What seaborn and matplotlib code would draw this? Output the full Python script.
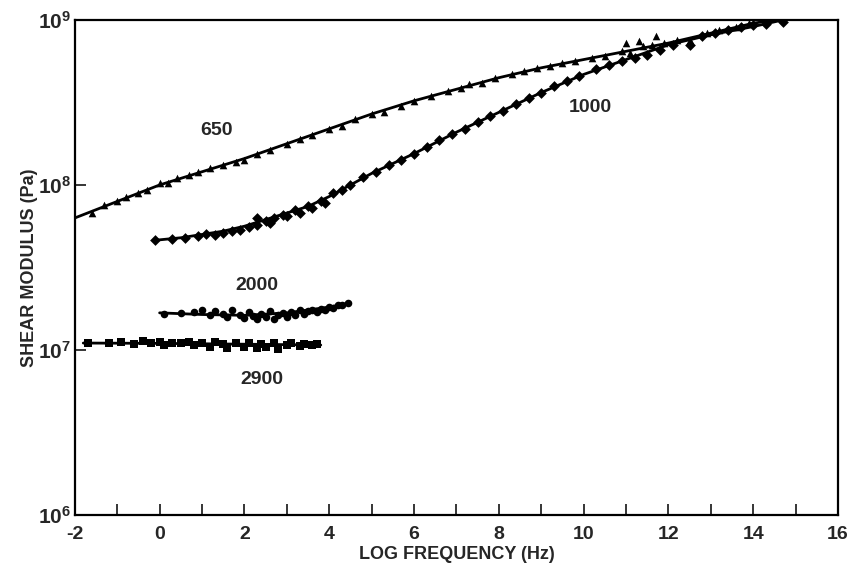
import numpy as np
import pandas as pd
import matplotlib
matplotlib.use('Agg')
import matplotlib.pyplot as plt
from matplotlib.ticker import FixedLocator, NullLocator, FuncFormatter
import seaborn as sns

sns.set_style('ticks')
plt.rcParams['font.family'] = ['Liberation Sans', 'DejaVu Sans']
plt.rcParams['font.weight'] = 'bold'
plt.rcParams['mathtext.fontset'] = 'custom'
plt.rcParams['mathtext.rm'] = 'Liberation Sans:bold'
plt.rcParams['mathtext.it'] = 'Liberation Sans:bold'
plt.rcParams['mathtext.bf'] = 'Liberation Sans:bold'
plt.rcParams['mathtext.default'] = 'rm'

# fitted curves: log frequency vs log10 shear modulus (Pa)
c650_x = [-2, -1, 0, 1, 2, 3, 4, 5, 6, 7, 8, 9, 10, 11, 12, 13, 14, 14.5]
c650_logG = [7.80, 7.90, 8.00, 8.08, 8.16, 8.25, 8.34, 8.43, 8.51, 8.58,
             8.65, 8.71, 8.76, 8.81, 8.86, 8.92, 8.98, 9.00]
c1000_x = [-0.1, 0.5, 1, 1.5, 2, 2.5, 3, 3.5, 4, 4.5, 5, 5.5, 6, 7, 8, 9,
           10, 11, 12, 13, 14, 14.7]
c1000_logG = [7.665, 7.68, 7.70, 7.72, 7.75, 7.79, 7.83, 7.87, 7.93, 8.00,
              8.07, 8.13, 8.19, 8.32, 8.44, 8.56, 8.67, 8.76, 8.85, 8.91,
              8.96, 9.00]
c2000_x = [0, 1, 2, 3, 4, 4.5]
c2000_logG = [7.225, 7.215, 7.21, 7.225, 7.26, 7.285]
c2900_x = [-1.8, 0, 2, 3.8]
c2900_logG = [7.042, 7.040, 7.035, 7.030]

# measured points
p650_x = [-1.6, -1.3, -1.0, -0.8, -0.5, -0.3, 0.0, 0.2, 0.4, 0.7, 0.9, 1.2,
          1.5, 1.8, 2.0, 2.3, 2.6, 3.0, 3.3, 3.6, 4.0, 4.3, 4.6, 5.0, 5.3,
          5.7, 6.0, 6.4, 6.8, 7.1, 7.3, 7.6, 7.9, 8.3, 8.6, 8.9, 9.2, 9.5,
          9.8, 10.2, 10.5, 10.9, 11.0, 11.1, 11.3, 11.4, 11.6, 11.7, 11.9,
          12.2, 12.5, 12.9, 13.2, 13.6, 13.9]
p650_logG = [7.83, 7.88, 7.90, 7.93, 7.95, 7.97, 8.01, 8.01, 8.04, 8.06,
             8.08, 8.10, 8.12, 8.14, 8.15, 8.19, 8.21, 8.25, 8.28, 8.30,
             8.34, 8.36, 8.40, 8.43, 8.44, 8.48, 8.51, 8.54, 8.57, 8.59,
             8.61, 8.62, 8.65, 8.67, 8.69, 8.71, 8.72, 8.74, 8.75, 8.77,
             8.78, 8.81, 8.86, 8.80, 8.87, 8.84, 8.85, 8.90, 8.86, 8.88,
             8.88, 8.92, 8.94, 8.96, 8.98]
p1000_x = [-0.1, 0.3, 0.6, 0.9, 1.1, 1.3, 1.5, 1.7, 1.9, 2.1, 2.3, 2.3, 2.5,
           2.6, 2.7, 2.9, 3.0, 3.2, 3.3, 3.5, 3.6, 3.8, 3.9, 4.1, 4.3, 4.5,
           4.8, 5.1, 5.4, 5.7, 6.0, 6.3, 6.6, 6.9, 7.2, 7.5, 7.8, 8.1, 8.4,
           8.7, 9.0, 9.3, 9.6, 9.9, 10.3, 10.6, 10.9, 11.2, 11.5, 11.8,
           12.1, 12.5, 12.8, 13.1, 13.4, 13.7, 14.0, 14.3, 14.7]
p1000_logG = [7.665, 7.675, 7.68, 7.69, 7.70, 7.695, 7.71, 7.72, 7.73, 7.745,
              7.76, 7.80, 7.78, 7.77, 7.80, 7.82, 7.81, 7.85, 7.83, 7.87,
              7.86, 7.90, 7.89, 7.95, 7.97, 8.00, 8.05, 8.08, 8.12, 8.15,
              8.19, 8.23, 8.27, 8.31, 8.34, 8.38, 8.42, 8.45, 8.49, 8.53,
              8.56, 8.60, 8.63, 8.66, 8.70, 8.73, 8.75, 8.77, 8.79, 8.82,
              8.85, 8.85, 8.90, 8.92, 8.94, 8.96, 8.97, 8.975, 8.985]
p2000_x = [0.1, 0.5, 0.8, 1.0, 1.2, 1.3, 1.5, 1.6, 1.7, 1.9, 2.0, 2.1, 2.2,
           2.3, 2.4, 2.5, 2.6, 2.7, 2.8, 2.9, 3.0, 3.1, 3.2, 3.3, 3.4, 3.5,
           3.6, 3.7, 3.8, 3.9, 4.0, 4.1, 4.2, 4.3, 4.45]
p2000_logG = [7.22, 7.225, 7.23, 7.24, 7.21, 7.235, 7.22, 7.20, 7.24, 7.215,
              7.195, 7.23, 7.205, 7.19, 7.22, 7.20, 7.235, 7.19, 7.21, 7.225,
              7.20, 7.23, 7.21, 7.24, 7.22, 7.235, 7.245, 7.23, 7.25, 7.245,
              7.26, 7.255, 7.27, 7.275, 7.285]
p2900_x = [-1.7, -1.2, -0.9, -0.6, -0.4, -0.2, 0.0, 0.1, 0.3, 0.5, 0.7, 0.8,
           1.0, 1.2, 1.3, 1.5, 1.6, 1.8, 2.0, 2.1, 2.3, 2.4, 2.5, 2.7, 2.8,
           3.0, 3.1, 3.3, 3.4, 3.6, 3.7]
p2900_logG = [7.04, 7.045, 7.05, 7.035, 7.055, 7.04, 7.05, 7.03, 7.045, 7.04,
              7.05, 7.03, 7.045, 7.02, 7.05, 7.035, 7.015, 7.04, 7.02, 7.045,
              7.01, 7.035, 7.02, 7.045, 7.005, 7.03, 7.04, 7.025, 7.035, 7.03,
              7.035]

curves = [(c650_x, c650_logG), (c1000_x, c1000_logG),
          (c2000_x, c2000_logG), (c2900_x, c2900_logG)]
points = [(p650_x, p650_logG, '^'), (p1000_x, p1000_logG, 'D'),
          (p2000_x, p2000_logG, 'o'), (p2900_x, p2900_logG, 's')]

fig = plt.figure(figsize=(8.5, 5.7), dpi=100)
ax = fig.add_axes([0.088, 0.0965, 0.898, 0.8685])

for cx, cy in curves:
    sns.lineplot(x=cx, y=10 ** np.array(cy), color='black', linewidth=2,
                 ax=ax, sort=False)
for px, py, mk in points:
    sns.scatterplot(x=px, y=10 ** np.array(py), marker=mk, color='black',
                    s=30, linewidth=0, ax=ax)

ax.set_yscale('log')
ax.set_xlim(-2, 16)
ax.set_ylim(1e6, 1e9)

ax.xaxis.set_major_locator(FixedLocator(range(-2, 17)))
ax.xaxis.set_major_formatter(FuncFormatter(lambda v, p: f'{int(v)}' if int(v) % 2 == 0 else ''))
ax.yaxis.set_major_locator(FixedLocator([1e6, 1e7, 1e8, 1e9]))
ax.yaxis.set_minor_locator(NullLocator())
ax.yaxis.set_major_formatter(FuncFormatter(lambda v, p: r'$10^{%d}$' % round(np.log10(v))))

ax.tick_params(axis='x', direction='in', length=8, width=1.3, labelsize=14, pad=8)
ax.tick_params(axis='y', direction='in', length=8, width=1.3, labelsize=15, pad=3)
for lbl in ax.get_xticklabels() + ax.get_yticklabels():
    lbl.set_fontweight('bold')
for sp in ax.spines.values():
    sp.set_linewidth(1.6)
    sp.set_color('black')

ax.set_xlabel('LOG FREQUENCY (Hz)', fontsize=13, fontweight='bold', labelpad=2)
ax.set_ylabel('SHEAR MODULUS (Pa)', fontsize=13, fontweight='bold', labelpad=0)

labels = [('650', 1.35, 10 ** 8.33), ('1000', 10.15, 10 ** 8.47),
          ('2000', 2.3, 10 ** 7.39), ('2900', 2.4, 10 ** 6.82)]
for t, lx, ly in labels:
    ax.text(lx, ly, t, fontsize=14, fontweight='bold', ha='center', va='center')

fig.savefig('out.png', dpi=100)
